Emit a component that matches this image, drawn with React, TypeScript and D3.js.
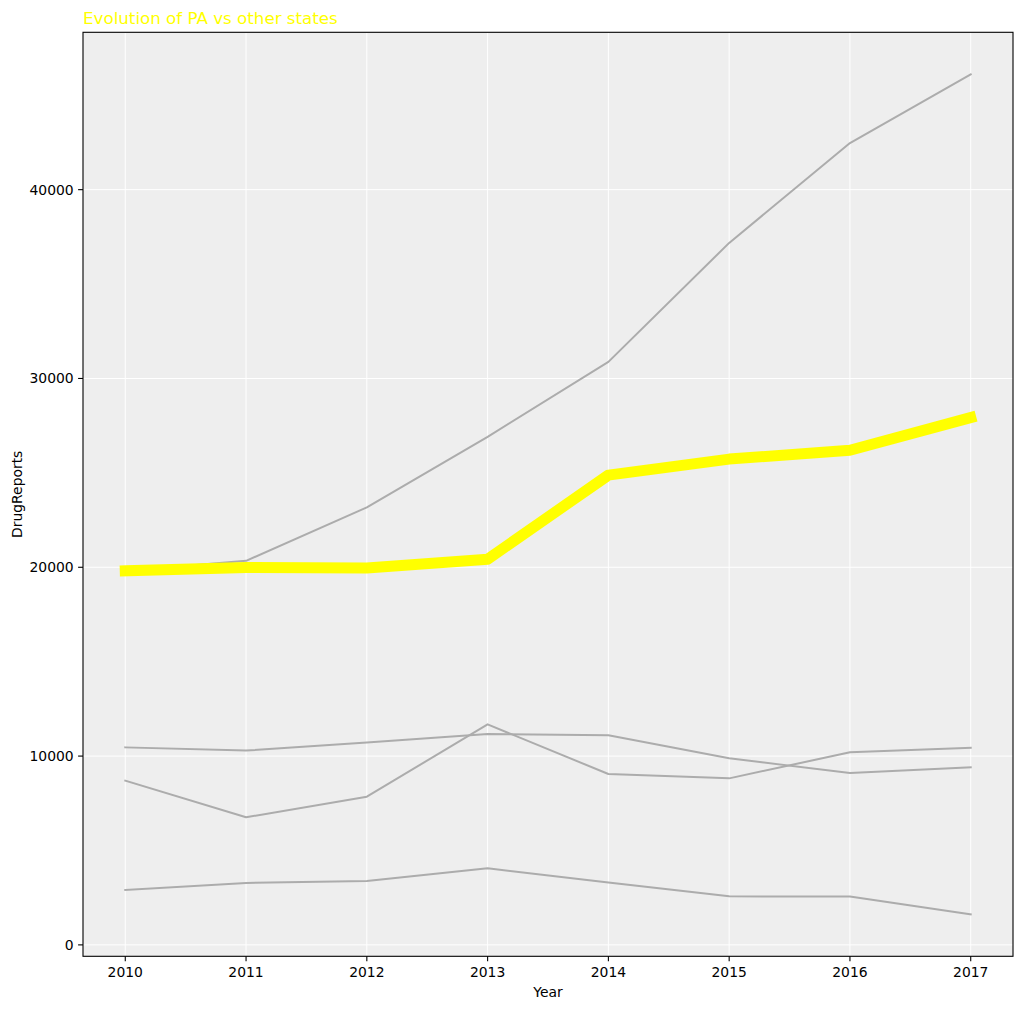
import React from "react";
import * as d3 from "d3";

const years = [2010, 2011, 2012, 2013, 2014, 2015, 2016, 2017];
const otherStates: number[][] = [
  [19800, 20340, 23170, 26910, 30880, 37180, 42470, 46110],
  [10460, 10290, 10720, 11170, 11100, 9880, 9100, 9400],
  [8700, 6760, 7850, 11680, 9050, 8820, 10200, 10440],
  [2910, 3280, 3390, 4060, 3300, 2570, 2560, 1620],
];
const paValues = [19810, 19990, 19960, 20430, 24880, 25730, 26200, 27930];
const yTicks = [0, 10000, 20000, 30000, 40000];
const xTicks = years;

const W = 1023;
const H = 1009;
const left = 83;
const right = 1013;
const top = 32.3;
const bottom = 956.3;
const FONT = "DejaVu Sans, sans-serif";

export default function App() {
  const xMin = d3.min(years)!;
  const xMax = d3.max(years)!;
  const xPad = (xMax - xMin) * 0.05;
  const x = d3.scaleLinear().domain([xMin - xPad, xMax + xPad]).range([left, right]);

  const all = [...otherStates.flat(), ...paValues];
  const yMin = d3.min(all)!;
  const yMax = d3.max(all)!;
  const yPad = (yMax - yMin) * 0.05;
  const y = d3.scaleLinear().domain([yMin - yPad, yMax + yPad]).range([bottom, top]);

  const line = d3
    .line<number>()
    .x((_, i) => x(years[i]))
    .y((d) => y(d));

  return (
    <svg width={W} height={H} style={{ position: "absolute", left: 0, top: 0 }}>
      <rect x={0} y={0} width={W} height={H} fill="#ffffff" />
      <rect x={left} y={top} width={right - left} height={bottom - top} fill="#eeeeee" />
      {xTicks.map((t) => (
        <line key={"gx" + t} x1={x(t)} x2={x(t)} y1={top} y2={bottom} stroke="#ffffff" strokeWidth={1} />
      ))}
      {yTicks.map((t) => (
        <line key={"gy" + t} x1={left} x2={right} y1={y(t)} y2={y(t)} stroke="#ffffff" strokeWidth={1} />
      ))}
      {otherStates.map((s, i) => (
        <path
          key={"s" + i}
          d={line(s) || ""}
          fill="none"
          stroke="#acacac"
          strokeWidth={2}
          strokeLinejoin="round"
          strokeLinecap="square"
        />
      ))}
      <path
        d={line(paValues) || ""}
        fill="none"
        stroke="#ffff00"
        strokeWidth={11}
        strokeLinejoin="round"
        strokeLinecap="square"
      />
      <rect x={left} y={top} width={right - left} height={bottom - top} fill="none" stroke="#000000" strokeWidth={1.1} />
      {xTicks.map((t) => (
        <g key={"tx" + t}>
          <line x1={x(t)} x2={x(t)} y1={bottom} y2={bottom + 4.9} stroke="#000" strokeWidth={1.1} />
          <text x={x(t)} y={977.3} textAnchor="middle" fontFamily={FONT} fontSize={13.9} fill="#000">
            {t}
          </text>
        </g>
      ))}
      {yTicks.map((t) => (
        <g key={"ty" + t}>
          <line x1={left - 4.9} x2={left} y1={y(t)} y2={y(t)} stroke="#000" strokeWidth={1.1} />
          <text
            x={left - 9.3}
            y={y(t)}
            dy="0.36em"
            textAnchor="end"
            fontFamily={FONT}
            fontSize={13.9}
            fill="#000"
          >
            {t}
          </text>
        </g>
      ))}
      <text x={(left + right) / 2} y={997} textAnchor="middle" fontFamily={FONT} fontSize={13.9} fill="#000">
        Year
      </text>
      <text
        transform={`translate(21.5, ${(top + bottom) / 2}) rotate(-90)`}
        textAnchor="middle"
        fontFamily={FONT}
        fontSize={13.9}
        fill="#000"
      >
        DrugReports
      </text>
      <text x={left} y={24} fontFamily={FONT} fontSize={16.7} fill="#ffff00">
        Evolution of PA vs other states
      </text>
    </svg>
  );
}
